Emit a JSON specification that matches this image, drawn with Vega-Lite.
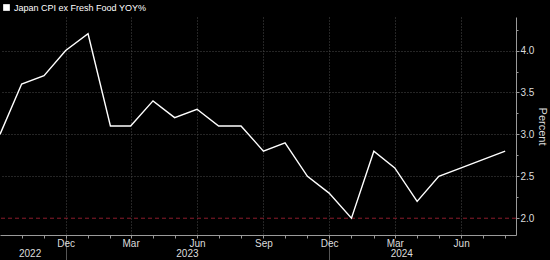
{
  "$schema": "https://vega.github.io/schema/vega-lite/v6.json",
  "width": 516,
  "height": 218,
  "autosize": {"type": "none"},
  "padding": {"left": 0, "top": 17, "right": 34, "bottom": 25},
  "background": "#000000",
  "config": {
    "view": {"stroke": null},
    "font": "Liberation Sans",
    "axis": {"labelFont": "Liberation Sans", "titleFont": "Liberation Sans", "labelColor": "#dcdcdc", "labelFontSize": 10}
  },
  "data": {
    "values": [
      {"date": "2022-09-01", "value": 3.0},
      {"date": "2022-10-01", "value": 3.6},
      {"date": "2022-11-01", "value": 3.7},
      {"date": "2022-12-01", "value": 4.0},
      {"date": "2023-01-01", "value": 4.2},
      {"date": "2023-02-01", "value": 3.1},
      {"date": "2023-03-01", "value": 3.1},
      {"date": "2023-04-01", "value": 3.4},
      {"date": "2023-05-01", "value": 3.2},
      {"date": "2023-06-01", "value": 3.3},
      {"date": "2023-07-01", "value": 3.1},
      {"date": "2023-08-01", "value": 3.1},
      {"date": "2023-09-01", "value": 2.8},
      {"date": "2023-10-01", "value": 2.9},
      {"date": "2023-11-01", "value": 2.5},
      {"date": "2023-12-01", "value": 2.3},
      {"date": "2024-01-01", "value": 2.0},
      {"date": "2024-02-01", "value": 2.8},
      {"date": "2024-03-01", "value": 2.6},
      {"date": "2024-04-01", "value": 2.2},
      {"date": "2024-05-01", "value": 2.5},
      {"date": "2024-06-01", "value": 2.6},
      {"date": "2024-07-01", "value": 2.7},
      {"date": "2024-08-01", "value": 2.8}
    ]
  },
  "layer": [
    {
      "mark": {"type": "point", "opacity": 0},
      "encoding": {
        "x": {
          "field": "date", "type": "temporal",
          "scale": {"type": "utc", "domain": [{"year": 2022, "month": 9, "date": 1, "utc": true}, {"year": 2024, "month": 8, "date": 16, "utc": true}]},
          "axis": {"orient": "bottom", "values": [{"year": 2022, "month": 12, "date": 1, "utc": true}, {"year": 2023, "month": 12, "date": 1, "utc": true}], "labels": false, "domain": false, "grid": false, "tickSize": 25, "tickColor": "#555555", "title": null}
        },
        "y": {
          "field": "value", "type": "quantitative",
          "scale": {"domain": [1.8, 4.4], "nice": false, "zero": false},
          "axis": {"orient": "right", "values": [2.5, 3, 3.5, 4], "labels": false, "domain": false, "ticks": false, "grid": true, "gridColor": "#4a4a4a", "gridDash": [1, 2], "title": null}
        }
      }
    },
    {
      "mark": {"type": "point", "opacity": 0},
      "encoding": {
        "x": {
          "field": "date", "type": "temporal",
          "scale": {"type": "utc", "domain": [{"year": 2022, "month": 9, "date": 1, "utc": true}, {"year": 2024, "month": 8, "date": 16, "utc": true}]},
          "axis": {"orient": "bottom", "values": [
            {"year": 2022, "month": 10, "date": 1, "utc": true},
            {"year": 2022, "month": 11, "date": 1, "utc": true},
            {"year": 2022, "month": 12, "date": 1, "utc": true},
            {"year": 2023, "month": 1, "date": 1, "utc": true},
            {"year": 2023, "month": 2, "date": 1, "utc": true},
            {"year": 2023, "month": 3, "date": 1, "utc": true},
            {"year": 2023, "month": 4, "date": 1, "utc": true},
            {"year": 2023, "month": 5, "date": 1, "utc": true},
            {"year": 2023, "month": 6, "date": 1, "utc": true},
            {"year": 2023, "month": 7, "date": 1, "utc": true},
            {"year": 2023, "month": 8, "date": 1, "utc": true},
            {"year": 2023, "month": 9, "date": 1, "utc": true},
            {"year": 2023, "month": 10, "date": 1, "utc": true},
            {"year": 2023, "month": 11, "date": 1, "utc": true},
            {"year": 2023, "month": 12, "date": 1, "utc": true},
            {"year": 2024, "month": 1, "date": 1, "utc": true},
            {"year": 2024, "month": 2, "date": 1, "utc": true},
            {"year": 2024, "month": 3, "date": 1, "utc": true},
            {"year": 2024, "month": 4, "date": 1, "utc": true},
            {"year": 2024, "month": 5, "date": 1, "utc": true},
            {"year": 2024, "month": 6, "date": 1, "utc": true},
            {"year": 2024, "month": 7, "date": 1, "utc": true},
            {"year": 2024, "month": 8, "date": 1, "utc": true}
          ], "labels": false, "domain": false, "grid": false, "tickSize": 3, "tickColor": "#9a9a9a", "title": null}
        },
        "y": {
          "field": "value", "type": "quantitative",
          "scale": {"domain": [1.8, 4.4], "nice": false, "zero": false},
          "axis": {"orient": "right", "values": [2.25, 2.75, 3.25, 3.75, 4.25], "labels": false, "domain": false, "grid": false, "tickSize": 2, "tickColor": "#9a9a9a", "title": null}
        }
      }
    },
    {
      "mark": {"type": "point", "opacity": 0},
      "encoding": {
        "x": {
          "field": "date", "type": "temporal",
          "scale": {"type": "utc", "domain": [{"year": 2022, "month": 9, "date": 1, "utc": true}, {"year": 2024, "month": 8, "date": 16, "utc": true}]},
          "axis": {"orient": "bottom", "values": [{"year": 2022, "month": 10, "date": 12, "utc": true}, {"year": 2023, "month": 5, "date": 18, "utc": true}, {"year": 2024, "month": 3, "date": 10, "utc": true}], "labelExpr": "utcFormat(datum.value, '%Y')", "ticks": false, "tickSize": 0, "domain": false, "grid": false, "labelPadding": 13, "title": null}
        },
        "y": {"field": "value", "type": "quantitative", "scale": {"domain": [1.8, 4.4], "nice": false, "zero": false}, "axis": null}
      }
    },
    {
      "data": {"values": [{"level": 2.0}]},
      "mark": {"type": "rule", "color": "#8b1c2c", "strokeDash": [4, 3], "strokeWidth": 1},
      "encoding": {
        "y": {"field": "level", "type": "quantitative", "scale": {"domain": [1.8, 4.4], "nice": false, "zero": false}, "axis": null}
      }
    },
    {
      "mark": {"type": "line", "color": "#ffffff", "strokeWidth": 1.4, "clip": true},
      "encoding": {
        "x": {
          "field": "date", "type": "temporal",
          "scale": {"type": "utc", "domain": [{"year": 2022, "month": 9, "date": 1, "utc": true}, {"year": 2024, "month": 8, "date": 16, "utc": true}]},
          "axis": {"orient": "bottom", "values": [
            {"year": 2022, "month": 12, "date": 1, "utc": true},
            {"year": 2023, "month": 3, "date": 1, "utc": true},
            {"year": 2023, "month": 6, "date": 1, "utc": true},
            {"year": 2023, "month": 9, "date": 1, "utc": true},
            {"year": 2023, "month": 12, "date": 1, "utc": true},
            {"year": 2024, "month": 3, "date": 1, "utc": true},
            {"year": 2024, "month": 6, "date": 1, "utc": true}
          ], "labelExpr": "utcFormat(datum.value, '%b')", "ticks": false, "tickSize": 0, "grid": true, "gridColor": "#4a4a4a", "gridDash": [1, 2], "domainColor": "#9a9a9a", "labelPadding": 3, "title": null}
        },
        "y": {
          "field": "value", "type": "quantitative",
          "scale": {"domain": [1.8, 4.4], "nice": false, "zero": false},
          "axis": {"orient": "right", "values": [2, 2.5, 3, 3.5, 4], "format": ".1f", "grid": false, "tickSize": 3, "tickColor": "#9a9a9a", "domainColor": "#9a9a9a", "labelPadding": 1, "title": "Percent", "titleColor": "#dcdcdc", "titleFontSize": 11, "titleFontWeight": "normal", "titlePadding": 3}
        },
        "color": {
          "datum": "Japan CPI ex Fresh Food YOY%",
          "scale": {"range": ["#ffffff"]},
          "legend": {"orient": "none", "legendX": 2, "legendY": -14, "title": null, "symbolType": "square", "symbolSize": 45, "symbolFillColor": "#ffffff", "symbolStrokeColor": "#ffffff", "symbolStrokeWidth": 0, "labelColor": "#ffffff", "labelFontSize": 9, "labelFont": "Liberation Sans", "labelOffset": 3, "padding": 0}
        }
      }
    }
  ],
  "resolve": {"axis": {"x": "independent", "y": "independent"}}
}
